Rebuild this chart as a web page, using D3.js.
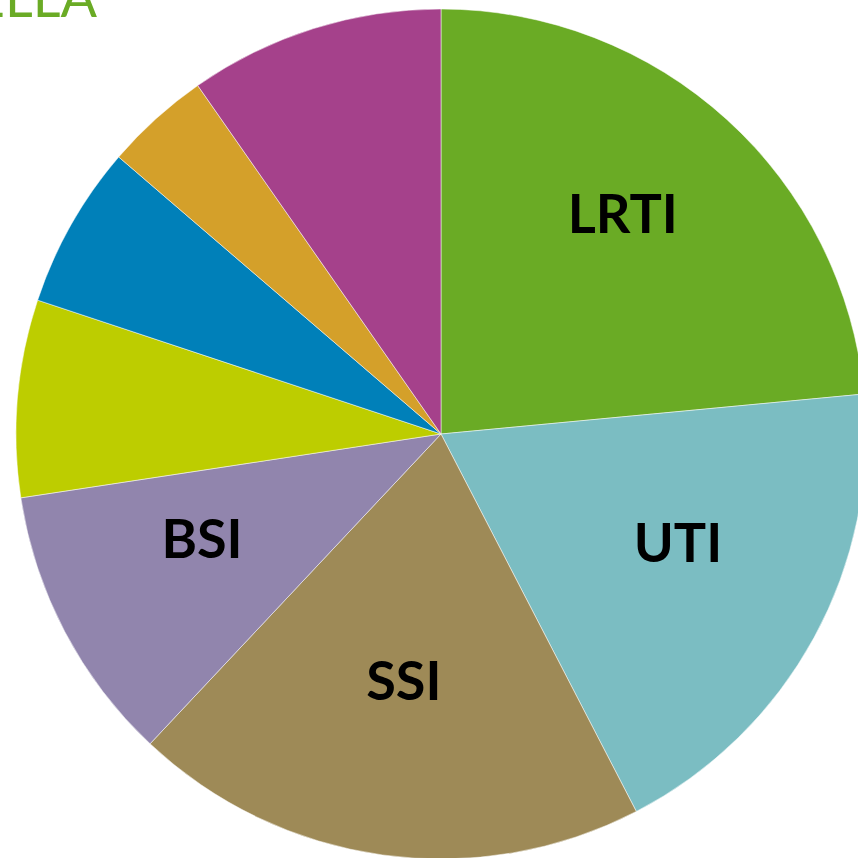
<!DOCTYPE html>
<html>
<head>
<meta charset="utf-8">
<script src="https://cdn.jsdelivr.net/npm/d3@7"></script>
<style>
  body { margin: 0; background: #fff; }
  svg { display: block; }
</style>
</head>
<body>
<div id="chart"></div>
<script>
// infection sites, share of cases (%)
const categories = ['LRTI', 'UTI', 'SSI', 'BSI', 'GI', 'SSTI', 'CNS', 'Other']
const values = [23.5, 18.9, 19.6, 10.6, 7.5, 6.2, 4.0, 9.7]
const shownLabels = ['LRTI', 'UTI', 'SSI', 'BSI']
const colors = ['#6aab25', '#7bbdc2', '#9e8a57', '#9185ad', '#bdcd00', '#0080b9', '#d4a02a', '#a5418b']
const titleText = 'KLEBSIELLA'

const width = 858,
  height = 858,
  cx = 441,
  cy = 434,
  radius = 425

const svg = d3.select('#chart')
  .append('svg')
  .attr('width', width)
  .attr('height', height)

// cut-off title at top left
svg.append('text')
  .attr('x', 97)
  .attr('y', 17)
  .attr('text-anchor', 'end')
  .attr('font-family', 'Lato, "Open Sans", sans-serif')
  .attr('font-size', 54)
  .attr('fill', '#6aab25')
  .text(titleText)

const data = categories.map((c, i) => ({ name: c, value: values[i] }))

const pie = d3.pie()
  .sort(null)
  .value(d => d.value)

const arc = d3.arc()
  .innerRadius(0)
  .outerRadius(radius)

const labelArc = d3.arc()
  .innerRadius(270)
  .outerRadius(270)

const g = svg.append('g')
  .attr('transform', `translate(${cx},${cy})`)

const arcs = pie(data)

g.selectAll('path')
  .data(arcs)
  .enter()
  .append('path')
  .attr('d', arc)
  .attr('fill', (d, i) => colors[i])
  .attr('stroke', '#fff')
  .attr('stroke-width', 0.5)

g.selectAll('text')
  .data(arcs.filter(d => shownLabels.includes(d.data.name)))
  .enter()
  .append('text')
  .attr('transform', d => {
    const [x, y] = labelArc.centroid(d)
    return `translate(${x},${y - 20})`
  })
  .attr('text-anchor', 'middle')
  .attr('dy', '0.35em')
  .attr('font-family', 'Lato, "Open Sans", sans-serif')
  .attr('font-weight', 'bold')
  .attr('font-size', 54)
  .attr('fill', '#000')
  .text(d => d.data.name)
</script>
</body>
</html>
